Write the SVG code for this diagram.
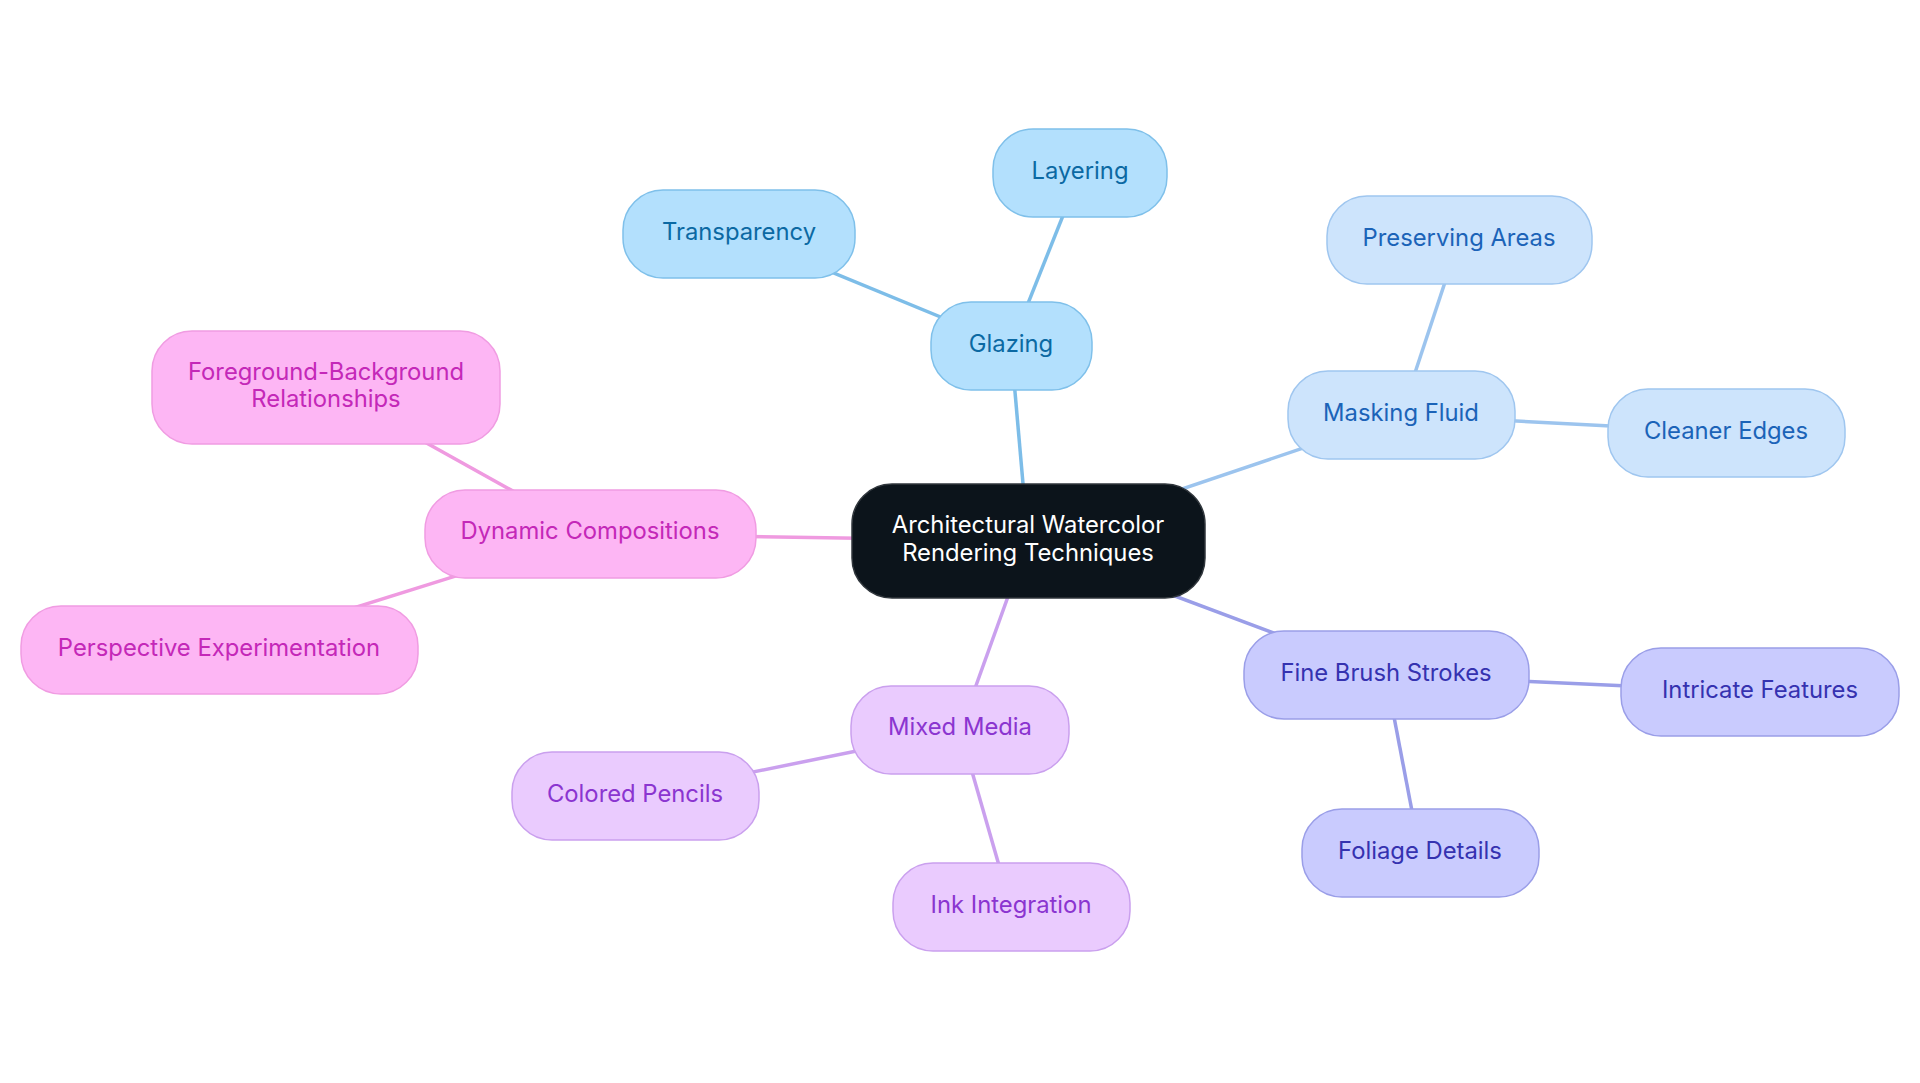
<svg xmlns="http://www.w3.org/2000/svg" width="1920" height="1083" viewBox="0 0 1920 1083">
<style>
text{font-family:Inter,"Noto Sans","Liberation Sans",sans-serif;font-size:23.8px;text-anchor:middle;dominant-baseline:central}
.n rect{stroke-width:1.5}
.c0 rect{fill:#0c141b;stroke:#30363c}
.c0 text{fill:#ffffff}
.c1 rect{fill:#b3e0fd;stroke:#7fc0ea}
.c1 text{fill:#0b69a3}
.c2 rect{fill:#cde4fc;stroke:#9fc6ef}
.c2 text{fill:#1b63b8}
.c3 rect{fill:#c9cbfe;stroke:#9a9ee8}
.c3 text{fill:#3532b0}
.c4 rect{fill:#eacbfe;stroke:#caa0ee}
.c4 text{fill:#8b35d0}
.c5 rect{fill:#fdb6f4;stroke:#f09ce2}
.c5 text{fill:#c428b8}
#edges line{stroke-width:3.5;fill:none}
.e1{stroke:#7dbde8}
.e2{stroke:#9cc4ee}
.e3{stroke:#9a9ee8}
.e4{stroke:#caa0ee}
.e5{stroke:#ef9ae0}
</style>
<rect width="1920" height="1083" fill="#ffffff"/>
<g id="edges">
<line class="e1" x1="1028" y1="541" x2="1011" y2="346"/>
<line class="e1" x1="1011" y1="346" x2="1080" y2="173"/>
<line class="e1" x1="1011" y1="346" x2="739" y2="234"/>
<line class="e2" x1="1028" y1="541" x2="1401" y2="415"/>
<line class="e2" x1="1401" y1="415" x2="1459" y2="240"/>
<line class="e2" x1="1401" y1="415" x2="1726" y2="432"/>
<line class="e3" x1="1028" y1="541" x2="1386" y2="675"/>
<line class="e3" x1="1386" y1="675" x2="1760" y2="692"/>
<line class="e3" x1="1386" y1="675" x2="1420" y2="853"/>
<line class="e4" x1="1028" y1="541" x2="960" y2="730"/>
<line class="e4" x1="960" y1="730" x2="635" y2="796"/>
<line class="e4" x1="960" y1="730" x2="1011" y2="907"/>
<line class="e5" x1="1028" y1="541" x2="590" y2="534"/>
<line class="e5" x1="590" y1="534" x2="326" y2="387"/>
<line class="e5" x1="590" y1="534" x2="219" y2="650"/>
</g>
<g id="n-center" class="n c0"><rect x="852" y="484" width="353" height="114" rx="40"/><text x="1028" y="524">Architectural Watercolor</text><text x="1028" y="552">Rendering Techniques</text></g>
<g id="n-glazing" class="n c1"><rect x="931" y="302" width="161" height="88" rx="40"/><text x="1011" y="343">Glazing</text></g>
<g id="n-layering" class="n c1"><rect x="993" y="129" width="174" height="88" rx="40"/><text x="1080" y="170">Layering</text></g>
<g id="n-transparency" class="n c1"><rect x="623" y="190" width="232" height="88" rx="40"/><text x="739" y="231">Transparency</text></g>
<g id="n-masking" class="n c2"><rect x="1288" y="371" width="227" height="88" rx="40"/><text x="1401" y="412">Masking Fluid</text></g>
<g id="n-preserving" class="n c2"><rect x="1327" y="196" width="265" height="88" rx="40"/><text x="1459" y="237">Preserving Areas</text></g>
<g id="n-cleaner" class="n c2"><rect x="1608" y="389" width="237" height="88" rx="40"/><text x="1726" y="430">Cleaner Edges</text></g>
<g id="n-brush" class="n c3"><rect x="1244" y="631" width="285" height="88" rx="40"/><text x="1386" y="672">Fine Brush Strokes</text></g>
<g id="n-intricate" class="n c3"><rect x="1621" y="648" width="278" height="88" rx="40"/><text x="1760" y="689">Intricate Features</text></g>
<g id="n-foliage" class="n c3"><rect x="1302" y="809" width="237" height="88" rx="40"/><text x="1420" y="850">Foliage Details</text></g>
<g id="n-mixed" class="n c4"><rect x="851" y="686" width="218" height="88" rx="40"/><text x="960" y="726">Mixed Media</text></g>
<g id="n-pencils" class="n c4"><rect x="512" y="752" width="247" height="88" rx="40"/><text x="635" y="793">Colored Pencils</text></g>
<g id="n-ink" class="n c4"><rect x="893" y="863" width="237" height="88" rx="40"/><text x="1011" y="904">Ink Integration</text></g>
<g id="n-dynamic" class="n c5"><rect x="425" y="490" width="331" height="88" rx="40"/><text x="590" y="530">Dynamic Compositions</text></g>
<g id="n-foreground" class="n c5"><rect x="152" y="331" width="348" height="113" rx="40"/><text x="326" y="371">Foreground-Background</text><text x="326" y="398">Relationships</text></g>
<g id="n-perspective" class="n c5"><rect x="21" y="606" width="397" height="88" rx="40"/><text x="219" y="647">Perspective Experimentation</text></g>
</svg>
